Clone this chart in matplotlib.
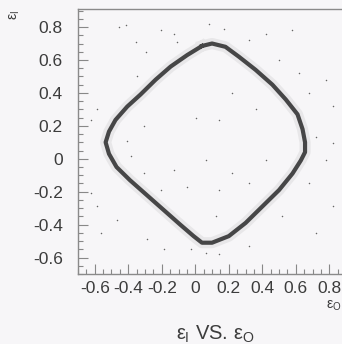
import numpy as np
from matplotlib import pyplot as plt
from matplotlib.ticker import MultipleLocator

plt.rcParams['font.family'] = ['Liberation Sans', 'DejaVu Sans']
plt.rcParams['mathtext.fontset'] = 'custom'
plt.rcParams['mathtext.rm'] = 'Liberation Sans'
plt.rcParams['mathtext.it'] = 'Liberation Sans'

# ring of points (clockwise from top)
ring_x = [0.04, 0.10, 0.18, 0.26, 0.36, 0.46, 0.54, 0.61, 0.64, 0.655, 0.655, 0.63,
          0.58, 0.50, 0.40, 0.30, 0.20, 0.10, 0.04, -0.01, -0.09, -0.19, -0.29,
          -0.39, -0.47, -0.515, -0.535, -0.515, -0.476, -0.406, -0.327, -0.237,
          -0.147, -0.048, 0.04]
ring_y = [0.685, 0.70, 0.68, 0.62, 0.54, 0.45, 0.36, 0.27, 0.18, 0.10, 0.04, -0.01,
          -0.09, -0.19, -0.29, -0.39, -0.47, -0.51, -0.51, -0.47, -0.40, -0.31, -0.22,
          -0.13, -0.05, 0.03, 0.10, 0.165, 0.236, 0.317, 0.39, 0.48,
          0.56, 0.63, 0.685]

# stray points away from the ring
stray_x = [-0.456, -0.416, -0.356, -0.297, -0.207, -0.127, -0.107, -0.585, -0.625,
           -0.406, -0.306, 0.002, -0.346, 0.084, 0.173, 0.322, 0.42, 0.58, 0.50,
           0.62, 0.68, 0.78, 0.82, 0.22, 0.143, 0.362, 0.72, 0.82, -0.625, -0.585,
           -0.565, -0.306, -0.207, -0.386, -0.287, -0.127, -0.048, -0.028, -0.187,
           -0.466, 0.064, 0.143, 0.22, 0.322, 0.123, 0.42, 0.52, 0.68, 0.78, 0.82,
           0.72, 0.322, 0.064, 0.143]
stray_y = [0.80, 0.81, 0.71, 0.65, 0.78, 0.76, 0.71, 0.30, 0.236, 0.105, 0.196,
           0.247, 0.50, 0.82, 0.79, 0.72, 0.76, 0.78, 0.60, 0.52, 0.40, 0.48, 0.32,
           0.40, 0.236, 0.30, 0.135, 0.095, -0.21, -0.29, -0.45, -0.087, -0.19,
           0.014, -0.49, -0.067, -0.17, -0.55, -0.55, -0.37, -0.006, -0.19, -0.087,
           -0.147, -0.35, -0.006, -0.35, -0.147, -0.006, -0.29, -0.45, -0.53,
           -0.57, -0.58]

xticks = [-0.6, -0.4, -0.2, 0, 0.2, 0.4, 0.6, 0.8]
xticklabels = ['-0.6', '-0.4', '-0.2', '0', '0.2', '0.4', '0.6', '0.8']
yticks = [-0.6, -0.4, -0.2, 0, 0.2, 0.4, 0.6, 0.8]
yticklabels = ['-0.6', '-0.4', '-0.2', '0', '0.2', '0.4', '0.6', '0.8']

bg = '#f7f6f8'
txt = '#3c3c3c'

fig = plt.figure(figsize=(3.42, 3.44), dpi=100, facecolor=bg)
ax = fig.add_axes([0.228, 0.2035, 0.784, 0.7705], facecolor=bg)

ax.plot(ring_x, ring_y, color='#666666', lw=8, alpha=0.10, solid_joinstyle='round')
ax.plot(ring_x, ring_y, color='#2a2a2a', lw=3, alpha=0.85, solid_joinstyle='round')
ax.scatter(stray_x, stray_y, s=1.2, color='#666666', lw=0)

ax.set_xlim(-0.7, 0.9)
ax.set_ylim(-0.7, 0.91)
ax.set_xticks(xticks)
ax.set_xticklabels(xticklabels)
ax.set_yticks(yticks)
ax.set_yticklabels(yticklabels)
ax.xaxis.set_minor_locator(MultipleLocator(0.05))
ax.yaxis.set_minor_locator(MultipleLocator(0.05))
ax.tick_params(which='both', direction='in', color='#888888', width=0.8,
               top=False, right=False, labelsize=12.5, labelcolor=txt)
ax.tick_params(which='major', length=7)
ax.tick_params(which='minor', length=3.5)
ax.tick_params(axis='y', pad=11)
ax.tick_params(axis='x', pad=5)
for s in ax.spines.values():
    s.set_color('#8a8a8a')
    s.set_linewidth(1)

fig.text(0.044, 0.955, r'$ε_{\mathrm{I}}$', rotation=90, fontsize=10, color=txt,
         ha='center', va='center')
fig.text(0.999, 0.112, r'$ε_{\mathrm{O}}$', fontsize=10, color=txt, ha='right', va='center')
fig.text(0.63, 0.028, r'$ε_{\mathrm{I}}$ VS. $ε_{\mathrm{O}}$', fontsize=14.5, color=txt,
         ha='center', va='center')

fig.savefig('out.png', dpi=100, facecolor=bg)
